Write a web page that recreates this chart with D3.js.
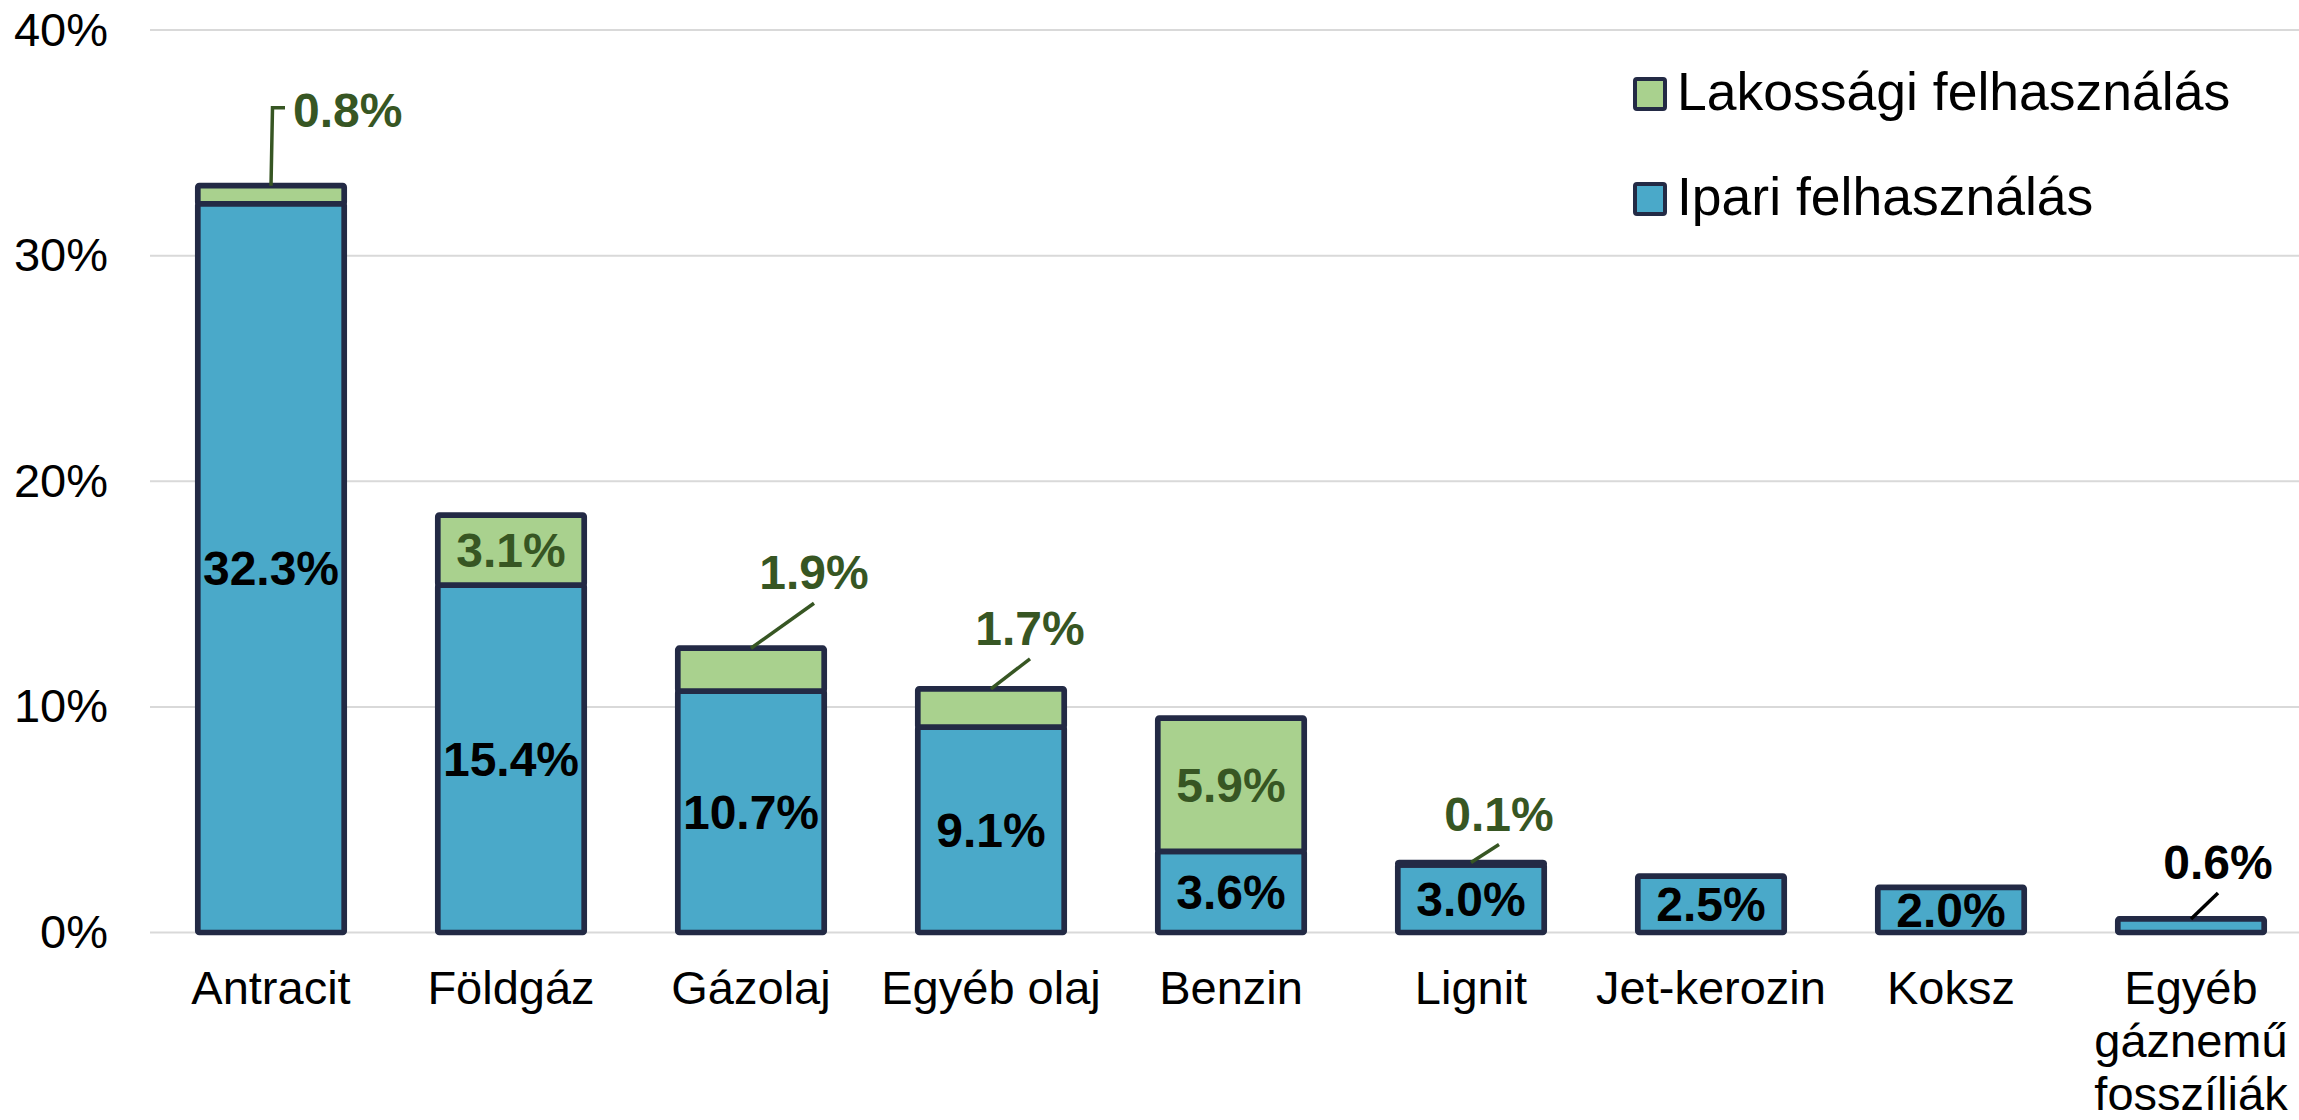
<!DOCTYPE html>
<html>
<head>
<meta charset="utf-8">
<script src="https://cdn.jsdelivr.net/npm/d3@7"></script>
<style>
  html, body { margin: 0; padding: 0; background: #ffffff; }
  svg { display: block; }
  text { font-family: "Liberation Sans", Arial, sans-serif; }
</style>
</head>
<body>
<svg id="chart" width="2299" height="1120"></svg>
<script>
// ---- data ----
const categories = ["Antracit", "Földgáz", "Gázolaj", "Egyéb olaj", "Benzin", "Lignit", "Jet-kerozin", "Koksz", "Egyéb gáznemű fosszíliák"];
const categoryLines = [["Antracit"], ["Földgáz"], ["Gázolaj"], ["Egyéb olaj"], ["Benzin"], ["Lignit"], ["Jet-kerozin"], ["Koksz"], ["Egyéb", "gáznemű", "fosszíliák"]];
const ipari = [32.3, 15.4, 10.7, 9.1, 3.6, 3.0, 2.5, 2.0, 0.6];
const lakossagi = [0.8, 3.1, 1.9, 1.7, 5.9, 0.1, 0, 0, 0];
const seriesNames = ["Lakossági felhasználás", "Ipari felhasználás"];
const yTicks = [0, 10, 20, 30, 40];

// ---- label placement (layout, not data) ----
// mode: "inside" | "leader" | "elbow" | null
const lakLabelLayout = [
  { mode: "elbow", dx: 14, dy: 78 },
  { mode: "inside" },
  { mode: "leader", dx: 63, dy: 45 },
  { mode: "leader", dx: 39, dy: 30 },
  { mode: "inside" },
  { mode: "leader", dx: 28, dy: 18 },
  null, null, null
];
const ipLabelLayout = ["inside", "inside", "inside", "inside", "inside", "inside", "inside", "inside",
  { mode: "leader", dx: 27, dy: 26 }];

// ---- styles ----
const blue = "#4AA9C9";
const green = "#A9D18E";
const edge = "#232A45";
const darkGreen = "#375623";
const gridColor = "#D9D9D9";
const fontSize = 47;
const labelFontSize = 48;

const svg = d3.select("#chart");

const x = d3.scaleBand().domain(categories).range([151, 2311]).paddingInner(0.39).paddingOuter(0.195);
const y = d3.scaleLinear().domain([0, 40]).range([932.5, 30]);

// grid
svg.append("g").selectAll("line").data(yTicks).join("line")
  .attr("x1", 150).attr("x2", 2299)
  .attr("y1", d => y(d)).attr("y2", d => y(d))
  .attr("stroke", gridColor).attr("stroke-width", 2);

// y axis labels
const yAxis = d3.axisLeft(y).tickValues(yTicks).tickFormat(d => d + "%").tickSize(0).tickPadding(0);
const yg = svg.append("g").attr("transform", "translate(108,0)").call(yAxis);
yg.select(".domain").remove();
yg.selectAll("text").attr("font-size", fontSize).attr("fill", "#000").attr("text-anchor", "end")
  .attr("font-family", "Liberation Sans, Arial, sans-serif");

// bars
const rows = categories.map((c, i) => ({ c, i, ip: ipari[i], lak: lakossagi[i] }));
const bars = svg.append("g");
rows.forEach(r => {
  const bx = x(r.c), bw = x.bandwidth();
  bars.append("rect")
    .attr("x", bx).attr("width", bw)
    .attr("y", y(r.ip)).attr("height", y(0) - y(r.ip))
    .attr("fill", blue).attr("stroke", edge).attr("stroke-width", 5.7)
    .attr("stroke-linejoin", "round").attr("rx", 1.5);
  if (r.lak > 0) {
    bars.append("rect")
      .attr("x", bx).attr("width", bw)
      .attr("y", y(r.ip + r.lak)).attr("height", y(r.ip) - y(r.ip + r.lak))
      .attr("fill", green).attr("stroke", edge).attr("stroke-width", 5.7)
      .attr("stroke-linejoin", "round").attr("rx", 1.5);
  }
});

// data labels
const labels = svg.append("g").attr("font-size", labelFontSize).attr("font-weight", "bold");
function fmt(v) { return v.toFixed(1) + "%"; }
rows.forEach(r => {
  const cx = x(r.c) + x.bandwidth() / 2;
  // Ipari labels
  const il = ipLabelLayout[r.i];
  if (il === "inside") {
    labels.append("text").attr("x", cx).attr("y", y(r.ip / 2))
      .attr("dy", "0.355em").attr("text-anchor", "middle").attr("fill", "#000").text(fmt(r.ip));
  } else if (il && il.mode === "leader") {
    const top = y(r.ip + r.lak);
    labels.append("line").attr("x1", cx).attr("y1", top).attr("x2", cx + il.dx).attr("y2", top - il.dy)
      .attr("stroke", "#000").attr("stroke-width", 3.5);
    labels.append("text").attr("x", cx + il.dx).attr("y", top - il.dy - 14)
      .attr("text-anchor", "middle").attr("fill", "#000").text(fmt(r.ip));
  }
  // Lakossági labels
  const ll = lakLabelLayout[r.i];
  if (!ll || r.lak <= 0) return;
  const top = y(r.ip + r.lak);
  if (ll.mode === "inside") {
    labels.append("text").attr("x", cx).attr("y", y(r.ip + r.lak / 2))
      .attr("dy", "0.355em").attr("text-anchor", "middle").attr("fill", darkGreen).text(fmt(r.lak));
  } else if (ll.mode === "leader") {
    labels.append("line").attr("x1", cx).attr("y1", top).attr("x2", cx + ll.dx).attr("y2", top - ll.dy)
      .attr("stroke", darkGreen).attr("stroke-width", 3.5);
    labels.append("text").attr("x", cx + ll.dx).attr("y", top - ll.dy - 14)
      .attr("text-anchor", "middle").attr("fill", darkGreen).text(fmt(r.lak));
  } else if (ll.mode === "elbow") {
    const ey = top - ll.dy;
    labels.append("path")
      .attr("d", `M${cx},${top} L${cx + 1.5},${ey} L${cx + ll.dx},${ey}`)
      .attr("fill", "none").attr("stroke", darkGreen).attr("stroke-width", 3.5);
    labels.append("text").attr("x", cx + ll.dx + 8).attr("y", ey + 19)
      .attr("text-anchor", "start").attr("fill", darkGreen).text(fmt(r.lak));
  }
});

// category labels
const xg = svg.append("g").attr("font-size", fontSize).attr("fill", "#000");
rows.forEach(r => {
  const cx = x(r.c) + x.bandwidth() / 2;
  const t = xg.append("text").attr("x", cx).attr("y", 1004).attr("text-anchor", "middle");
  categoryLines[r.i].forEach((ln, k) => {
    t.append("tspan").attr("x", cx).attr("dy", k === 0 ? 0 : 53).text(ln);
  });
});

// legend
const legendColors = [green, blue];
const lg = svg.append("g");
seriesNames.forEach((name, k) => {
  const top = 77 + k * 105;
  lg.append("rect").attr("x", 1635).attr("y", top + 2).attr("width", 30).attr("height", 30)
    .attr("fill", legendColors[k]).attr("stroke", edge).attr("stroke-width", 4).attr("rx", 2);
  lg.append("text").attr("x", 1677).attr("y", top + 33).attr("font-size", 53.5).attr("fill", "#000").text(name);
});
</script>
</body>
</html>
